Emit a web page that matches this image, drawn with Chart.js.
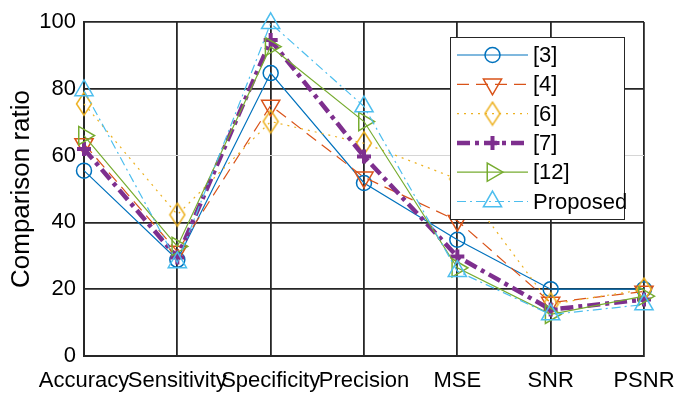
<!DOCTYPE html>
<html>
<head>
<meta charset="utf-8">
<script src="https://cdn.jsdelivr.net/npm/chart.js@4"></script>
<style>
  html, body { margin: 0; padding: 0; background: #fff; }
  #wrap { width: 676px; height: 396px; }
</style>
</head>
<body>
<div id="wrap"><canvas id="c" width="676" height="396"></canvas></div>
<script>
// --- data ---
const categories = ['Accuracy', 'Sensitivity', 'Specificity', 'Precision', 'MSE', 'SNR', 'PSNR'];
const yTicks = [0, 20, 40, 60, 80, 100];
const seriesNames = ['[3]', '[4]', '[6]', '[7]', '[12]', 'Proposed'];
const ref3     = [55.5, 28.8, 84.7, 51.8, 34.8, 20.0, 20.0];
const ref4     = [63.5, 31.3, 75.0, 53.5, 40.5, 16.0, 19.3];
const ref6     = [75.5, 42.3, 70.2, 63.7, 53.0, 15.5, 19.9];
const ref7     = [62.0, 29.5, 94.6, 59.7, 29.8, 13.9, 16.9];
const ref12    = [66.0, 32.8, 92.6, 70.2, 26.4, 12.5, 17.9];
const proposed = [79.5, 28.0, 99.6, 74.7, 25.4, 12.4, 15.4];

const FONT = '"Liberation Sans", Arial, Helvetica, sans-serif';
const INK = '#262626';

// tall diamond marker (MATLAB 'd')
function diamondMarker(color) {
    const cv = document.createElement('canvas');
    cv.width = 18; cv.height = 26;
    const g = cv.getContext('2d');
    g.strokeStyle = color; g.lineWidth = 1.5;
    g.beginPath();
    g.moveTo(9, 1.5); g.lineTo(16.5, 13); g.lineTo(9, 24.5); g.lineTo(1.5, 13);
    g.closePath(); g.stroke();
    return cv;
}

function series(label, data, color, opts) {
    return Object.assign({
        label, data,
        borderColor: color,
        backgroundColor: 'rgba(0,0,0,0)',
        pointBorderColor: color,
        pointBackgroundColor: 'rgba(0,0,0,0)',
        borderWidth: 1.2,
        pointBorderWidth: 1.5,
        pointRadius: 7,
        tension: 0,
        clip: false
    }, opts);
}

const datasets = [
    series(seriesNames[0], ref3, '#0072BD', { pointStyle: 'circle', pointRadius: 7.5, order: 5 }),
    series(seriesNames[1], ref4, '#D95319', { pointStyle: 'triangle', pointRotation: 180, pointRadius: 10.5, borderDash: [12, 7], order: 4 }),
    series(seriesNames[2], ref6, '#EDB120', { pointStyle: diamondMarker('#EDB120'), borderDash: [2, 5], order: 3 }),
    series(seriesNames[3], ref7, '#7E2F8E', { pointStyle: 'cross', pointRadius: 7, pointBorderWidth: 4, borderWidth: 4.5, borderDash: [13, 5, 4, 5], order: 2 }),
    series(seriesNames[4], ref12, '#77AC30', { pointStyle: 'triangle', pointRotation: 90, pointRadius: 10.5, order: 1 }),
    series(seriesNames[5], proposed, '#4DBEEE', { pointStyle: 'triangle', pointRadius: 10.5, borderDash: [9, 4, 2, 4], order: 0 })
];

// legend box drawn inside the axes, on top of everything
const insideLegend = {
    id: 'insideLegend',
    afterDraw(chart) {
        const ctx = chart.ctx;
        const box = { x: 450, y: 37, w: 174, h: 182 };
        const rowY0 = 55, rowStep = 29.3;
        ctx.save();
        ctx.fillStyle = '#fff';
        ctx.fillRect(box.x, box.y, box.w, box.h);
        ctx.strokeStyle = INK; ctx.lineWidth = 1;
        ctx.strokeRect(box.x + 0.5, box.y + 0.5, box.w, box.h);
        chart.data.datasets.forEach((ds, i) => {
            const y = rowY0 + i * rowStep;
            ctx.save();
            ctx.strokeStyle = ds.borderColor;
            ctx.lineWidth = ds.borderWidth;
            ctx.setLineDash(ds.borderDash || []);
            ctx.beginPath(); ctx.moveTo(457, y); ctx.lineTo(528, y); ctx.stroke();
            ctx.setLineDash([]);
            ctx.fillStyle = 'rgba(0,0,0,0)';
            ctx.lineWidth = ds.pointBorderWidth;
            Chart.helpers.drawPoint(ctx, {
                pointStyle: ds.pointStyle, rotation: ds.pointRotation || 0,
                radius: ds.pointRadius, borderWidth: ds.pointBorderWidth
            }, 492.5, y);
            ctx.restore();
            ctx.fillStyle = '#000';
            ctx.font = '22px ' + FONT;
            ctx.textBaseline = 'middle';
            ctx.fillText(ds.label, 533, y + 1);
        });
        ctx.restore();
    }
};

new Chart(document.getElementById('c'), {
    type: 'line',
    data: { labels: categories, datasets },
    options: {
        responsive: false,
        animation: false,
        layout: { padding: { top: 22, right: 32, left: 0, bottom: 0 } },
        plugins: { legend: { display: false }, tooltip: { enabled: false } },
        scales: {
            x: {
                offset: false,
                grid: { color: INK, lineWidth: 1.8, drawTicks: false },
                border: { color: INK, width: 2 },
                ticks: { color: '#000', font: { family: FONT, size: 22 }, padding: 12, maxRotation: 0, autoSkip: false },
                afterFit(s) { s.height = 40; s.paddingLeft = 0; s.paddingRight = 0; }
            },
            y: {
                min: 0, max: 100,
                afterBuildTicks(s) { s.ticks = yTicks.map(v => ({ value: v })); },
                grid: { color: c => c.tick && c.tick.value === 60 ? '#d6d6d6' : INK, lineWidth: c => c.tick && c.tick.value === 60 ? 1 : 1.8, drawTicks: false },
                border: { color: INK, width: 2 },
                ticks: { color: '#000', font: { family: FONT, size: 22 }, padding: 8 },
                title: { display: true, text: 'Comparison ratio', color: '#000', font: { family: FONT, size: 26 }, padding: { top: 6, bottom: 0 } },
                afterFit(s) { s.width = 84; }
            }
        }
    },
    plugins: [insideLegend]
});
</script>
</body>
</html>
